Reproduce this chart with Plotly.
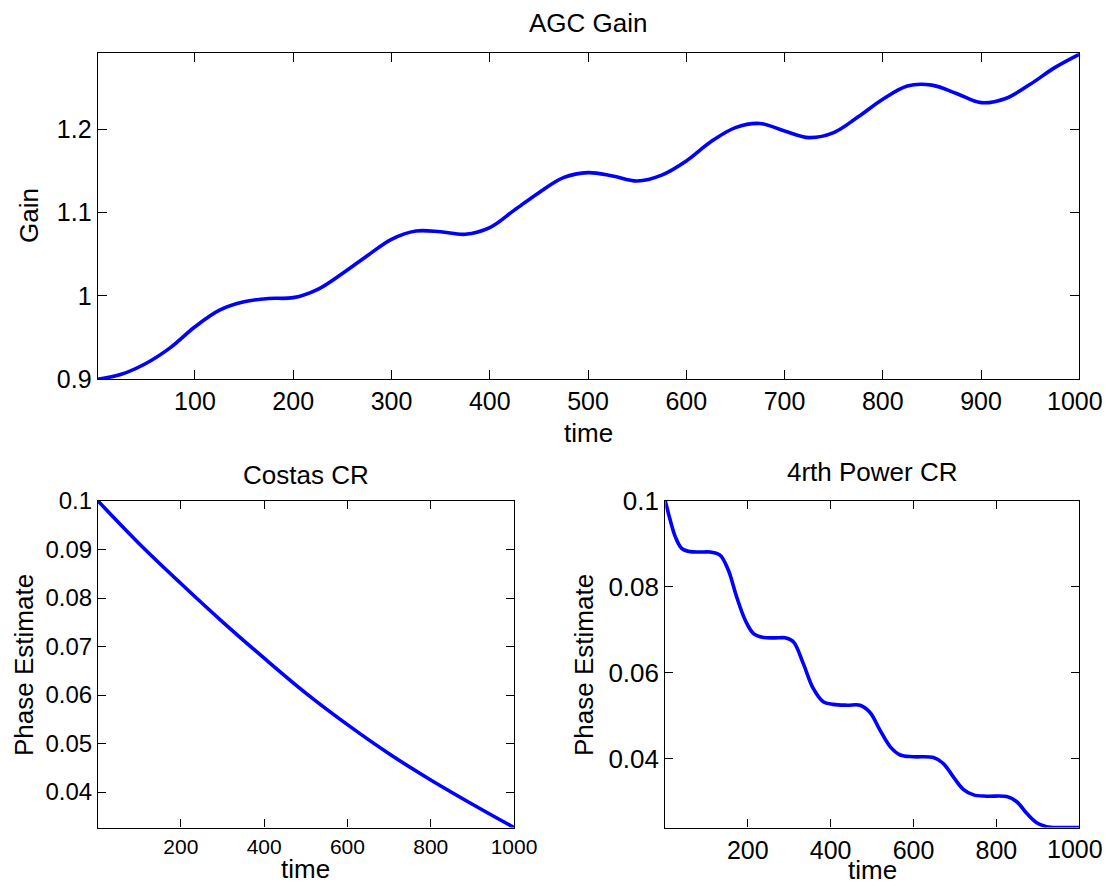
import plotly.graph_objects as go

# ---- data ----
agc_t = [1, 25, 50, 75, 100, 125, 150, 175, 200, 225, 250, 275, 300, 325, 350, 375,
         400, 425, 450, 475, 500, 525, 550, 575, 600, 625, 650, 675, 700, 725, 750,
         775, 800, 825, 850, 875, 900, 925, 950, 975, 1000]
agc_gain = [0.900, 0.906, 0.919, 0.938, 0.963, 0.983, 0.993, 0.997, 0.998, 1.008,
            1.027, 1.048, 1.068, 1.078, 1.077, 1.074, 1.082, 1.103, 1.124, 1.142,
            1.148, 1.144, 1.138, 1.145, 1.162, 1.185, 1.202, 1.207, 1.198, 1.190,
            1.196, 1.215, 1.236, 1.252, 1.253, 1.243, 1.232, 1.237, 1.254, 1.274, 1.290]

costas_t = [1, 100, 200, 300, 400, 500, 600, 700, 800, 900, 1000]
costas_phase = [0.1000, 0.0912, 0.0830, 0.0751, 0.0676, 0.0604, 0.0539, 0.0479,
                0.0425, 0.0375, 0.0327]

p4_t = [1, 13, 25, 41, 61, 85, 109, 133, 153, 173, 194, 214, 238, 265, 290, 310,
        334, 358, 382, 406, 440, 471, 495, 519, 544, 568, 600, 648, 672, 696, 720,
        745, 777, 825, 849, 873, 897, 921, 953, 1000]
p4_phase = [0.1000, 0.0955, 0.0917, 0.0889, 0.0882, 0.0881, 0.0881, 0.0874, 0.0839,
            0.0777, 0.0722, 0.0691, 0.0682, 0.0681, 0.0681, 0.0672, 0.0621, 0.0563,
            0.0532, 0.0526, 0.0524, 0.0524, 0.0507, 0.0466, 0.0427, 0.0408, 0.0404,
            0.0402, 0.0388, 0.0357, 0.0328, 0.0315, 0.0312, 0.0311, 0.0299, 0.0272,
            0.0250, 0.0241, 0.0239, 0.0239]

top_xticks = [100, 200, 300, 400, 500, 600, 700, 800, 900, 1000]
top_yticks = [0.9, 1.0, 1.1, 1.2]
top_ylabels = ["0.9", "1", "1.1", "1.2"]
bl_xticks = [200, 400, 600, 800, 1000]
bl_yticks = [0.04, 0.05, 0.06, 0.07, 0.08, 0.09, 0.1]
bl_ylabels = ["0.04", "0.05", "0.06", "0.07", "0.08", "0.09", "0.1"]
br_yticks = [0.04, 0.06, 0.08, 0.1]
br_ylabels = ["0.04", "0.06", "0.08", "0.1"]

# the page body keeps its default 8px margin, so the figure is 16px smaller
OFF = 8
W, H = 1112 - 2 * OFF, 892 - 2 * OFF
FONT = "Liberation Sans, Arial, Helvetica, sans-serif"
BLUE = "rgb(0,0,255)"

def px(x):
    return (x - OFF) / W

def py(y):
    return 1 - (y - OFF) / H

fig = go.Figure()
line = dict(color=BLUE, width=3.6, shape="spline", smoothing=1.0)
fig.add_trace(go.Scatter(x=agc_t, y=agc_gain, mode="lines", line=line, xaxis="x", yaxis="y"))
fig.add_trace(go.Scatter(x=costas_t, y=costas_phase, mode="lines", line=line, xaxis="x2", yaxis="y2"))
fig.add_trace(go.Scatter(x=p4_t, y=p4_phase, mode="lines", line=line, xaxis="x3", yaxis="y3"))

def ax(domain, rng, tickvals, ticktext=None, size=25, anchor=None, ticklen=9):
    d = dict(domain=domain, range=rng, tickvals=tickvals, showline=True, linecolor="black",
             linewidth=1.2, mirror="allticks", ticks="inside", ticklen=ticklen, tickcolor="black",
             tickwidth=1, showgrid=False, zeroline=False, automargin=False,
             ticklabeloverflow="allow",
             tickfont=dict(size=size, color="black", family=FONT),
             anchor=anchor, fixedrange=True)
    if ticktext is not None:
        d["ticktext"] = ticktext
    return d

# the last label at the right page edge is drawn as a right-aligned text so it is not clipped
top_xlabels = [str(v) for v in top_xticks[:-1]] + [""]
br_xlabels = [str(v) for v in bl_xticks[:-1]] + [""]
bl_xlabels = [str(v) for v in bl_xticks]

fig.update_layout(
    width=W, height=H, margin=dict(l=0, r=0, t=0, b=0, pad=0, autoexpand=False), showlegend=False,
    paper_bgcolor="white", plot_bgcolor="white", font=dict(family=FONT, color="black"),
    xaxis=ax([px(97.7), px(1079.3)], [1, 1000], top_xticks, top_xlabels, size=25, anchor="y"),
    yaxis=ax([py(379.3), py(53.3)], [0.9, 1.2912], top_yticks, top_ylabels, size=25, anchor="x"),
    xaxis2=ax([px(98), px(514)], [1, 1000], bl_xticks, bl_xlabels, size=21, anchor="y2", ticklen=8),
    yaxis2=ax([py(827.5), py(501)], [0.0327, 0.1], bl_yticks, bl_ylabels, size=24, anchor="x2", ticklen=8),
    xaxis3=ax([px(665.3), px(1079.3)], [1, 1000], bl_xticks, br_xlabels, size=25, anchor="y3", ticklen=8),
    yaxis3=ax([py(827.5), py(501)], [0.0239, 0.1], br_yticks, br_ylabels, size=26, anchor="x3", ticklen=8),
)

def ann(text, x, y, angle=0, size=26, xanchor="center"):
    fig.add_annotation(text=text, x=px(x), y=py(y), xref="paper", yref="paper", showarrow=False,
                       xanchor=xanchor, yanchor="middle", textangle=angle, borderpad=0,
                       font=dict(size=size, color="black", family=FONT))

ann("AGC Gain", 588, 23)
ann("time", 588, 433)
ann("Gain", 29, 216, angle=-90)
ann("Costas CR", 306, 475)
ann("time", 306, 869)
ann("Phase Estimate", 24, 665, angle=-90)
ann("4rth Power CR", 872, 472)
ann("time", 872, 870)
ann("Phase Estimate", 584, 665, angle=-90)
ann(str(top_xticks[-1]), 1103.5, 401, size=25, xanchor="right")
ann(str(bl_xticks[-1]), 1103.5, 849, size=25, xanchor="right")

fig.write_html("out.html")
